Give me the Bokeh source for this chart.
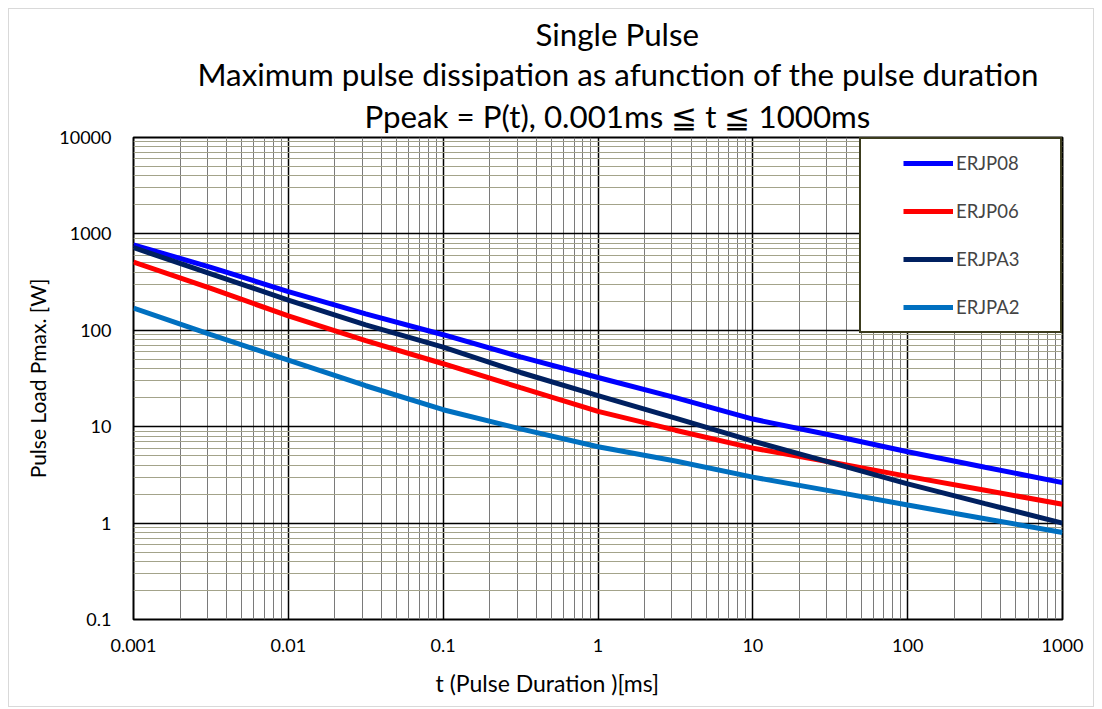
from bokeh.plotting import figure
from bokeh.models import (Range1d, FixedTicker, CustomJSTickFormatter, Legend,
                          LegendItem, Title)
from bokeh.embed import file_html
from bokeh.resources import INLINE

FONT = "Lato"

# ---- data -------------------------------------------------------------
t_ms = [0.001, 0.00316, 0.01, 0.0316, 0.1, 0.316, 1, 3.16, 10, 31.6, 100, 316, 1000]
erjp08 = [770, 450, 252, 148, 90, 53, 32.4, 20, 12, 8.2, 5.5, 3.8, 2.63]
erjp06 = [510, 272, 141, 78, 45, 25.4, 14.4, 9.2, 6.0, 4.3, 3.05, 2.19, 1.57]
erjpa3 = [720, 385, 206, 114, 67, 36.5, 21, 12.3, 7.1, 4.27, 2.55, 1.59, 1.0]
erjpa2 = [170, 90, 49, 26.6, 15, 9.5, 6.2, 4.4, 3.0, 2.16, 1.54, 1.11, 0.80]

series_names = ["ERJP08", "ERJP06", "ERJPA3", "ERJPA2"]
series_values = [erjp08, erjp06, erjpa3, erjpa2]
series_colors = ["#0000ff", "#ff0000", "#002060", "#0070c0"]

x_ticks = [0.001, 0.01, 0.1, 1, 10, 100, 1000]
x_tick_labels = ["0.001", "0.01", "0.1", "1", "10", "100", "1000"]
y_ticks = [0.1, 1, 10, 100, 1000, 10000]
y_tick_labels = ["0.1", "1", "10", "100", "1000", "10000"]

title_lines = ["Single Pulse",
               "Maximum pulse dissipation as afunction of the pulse duration",
               "Ppeak = P(t), 0.001ms \u2266 t \u2266 1000ms"]
title_offsets = [402, 64, 231]     # px from the plot frame's left edge
title_standoffs = [0, 0, 5]
x_label = "t (Pulse Duration )[ms]"
y_label = "Pulse Load Pmax. [W]"


def minor_of(ticks):
    out = []
    for tk in ticks[:-1]:
        out += [tk * m for m in range(2, 10)]
    return out


p = figure(width=1086, height=699,
           x_axis_type="log", y_axis_type="log",
           x_range=Range1d(x_ticks[0], x_ticks[-1]),
           y_range=Range1d(y_ticks[0], y_ticks[-1]),
           output_backend="svg", toolbar_location=None,
           min_border_left=124, min_border_right=33,
           min_border_top=128, min_border_bottom=89)
p.title = None
p.styles = {"margin-left": "8px", "margin-top": "8px",
            "border": "1px solid #d9d9d9"}
p.background_fill_color = "white"
p.border_fill_color = "white"
p.outline_line_color = "black"
p.outline_line_width = 2

fmt_code = """
for (let i = 0; i < tks.length; i++) {
  if (Math.abs(Math.log10(tick) - Math.log10(tks[i])) < 1e-6) return lbls[i];
}
return "";
"""
p.xaxis.ticker = FixedTicker(ticks=x_ticks, minor_ticks=minor_of(x_ticks))
p.yaxis.ticker = FixedTicker(ticks=y_ticks, minor_ticks=minor_of(y_ticks))
p.xaxis.formatter = CustomJSTickFormatter(args=dict(tks=x_ticks, lbls=x_tick_labels), code=fmt_code)
p.yaxis.formatter = CustomJSTickFormatter(args=dict(tks=y_ticks, lbls=y_tick_labels), code=fmt_code)

for ax in (p.xaxis, p.yaxis):
    ax.axis_line_color = None
    ax.major_tick_line_color = None
    ax.minor_tick_line_color = None
    ax.major_tick_out = 0
    ax.major_tick_in = 0
    ax.major_label_text_font = FONT
    ax.major_label_text_font_size = "18px"
    ax.major_label_text_color = "#000000"
    ax.axis_label_text_font = FONT
    ax.axis_label_text_font_style = "normal"
    ax.axis_label_text_color = "#000000"

p.yaxis.axis_label = y_label
p.yaxis.axis_label_text_font_size = "21px"
p.xaxis.major_label_standoff = 15
p.yaxis.major_label_standoff = 18
p.yaxis.axis_label_standoff = 6

# x-axis title: in the reference it sits left of the frame's centre
p.add_layout(Title(text=x_label, align="left", offset=302, text_font=FONT,
                   text_font_size="23px", text_font_style="normal",
                   text_color="#000000", standoff=24), "below")

p.xgrid.grid_line_color = "black"
p.xgrid.grid_line_width = 1.5
p.ygrid.grid_line_color = "black"
p.ygrid.grid_line_width = 1.5
p.xgrid.minor_grid_line_color = "#7a7a7a"
p.xgrid.minor_grid_line_width = 1
p.ygrid.minor_grid_line_color = "#a3a38a"
p.ygrid.minor_grid_line_width = 1

renderers = []
for name, vals, col in zip(series_names, series_values, series_colors):
    r = p.line(t_ms, vals, line_color=col, line_width=5)
    renderers.append((name, r))

legend = Legend(items=[LegendItem(label=n, renderers=[r]) for n, r in renderers],
                location="top_right", margin=0, padding=12,
                spacing=24, label_height=24, glyph_height=20, glyph_width=50,
                label_standoff=3, label_width=92,
                label_text_font=FONT, label_text_font_size="18.5px",
                title=" ", title_location="left", title_text_font_size="14px",
                title_standoff=14,
                border_line_color="#3c3c1e", border_line_width=2,
                border_line_alpha=1.0,
                background_fill_color="white", background_fill_alpha=1.0)
p.add_layout(legend)

for line, off, so in reversed(list(zip(title_lines, title_offsets, title_standoffs))):
    t = Title(text=line, align="left", offset=off, text_font=FONT,
              text_font_size="31.3px", text_font_style="normal",
              text_color="#000000", standoff=so)
    p.add_layout(t, "above")

open("out.html", "w").write(file_html(p, INLINE))
